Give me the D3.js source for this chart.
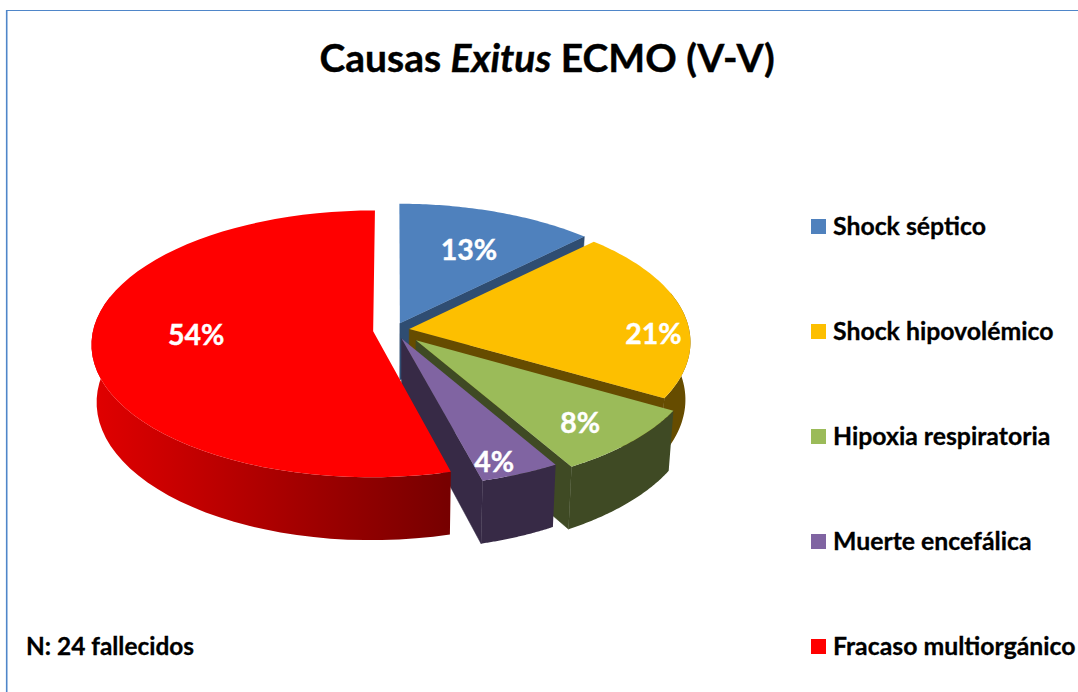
<!DOCTYPE html>
<html><head><meta charset="utf-8">
<script src="https://cdn.jsdelivr.net/npm/d3@7/dist/d3.min.js"></script>
<style>html,body{margin:0;padding:0;background:#fff}svg{display:block}text{font-family:Lato,"Open Sans",sans-serif;font-weight:700}</style>
</head><body><svg id="c" width="1078" height="692"></svg>
<script>
const categories = ["Shock séptico","Shock hipovolémico","Hipoxia respiratoria","Muerte encefálica","Fracaso multiorgánico"];
const values = [3,5,2,1,13];
const labels = ["13%","21%","8%","4%","54%"];
const topColors = ["#4f81bd","#fdbf00","#9bbb59","#8064a2","#ff0000"];
const wallColors = ["#2f4d72","#664c00","#3f4a24","#372a46","url(#redWall)"];
const explode = [0.055,0.055,0.11,0.07,0.075];
const labelRadius = [0.645,0.87,0.80,0.90,0.63];
const labelTurn = [1.5,10,2,3,5];

const cx=394, cy=330, A=280, B=132, k=0.094, depth=57, lowX=0.983, lowY=1.04;
const svg=d3.select("#c");
const grad=svg.append("defs").append("linearGradient").attr("id","redWall")
  .attr("gradientUnits","userSpaceOnUse").attr("x1",95).attr("x2",447).attr("y1",0).attr("y2",0);
grad.append("stop").attr("offset",0).attr("stop-color","#e00000");
grad.append("stop").attr("offset",1).attr("stop-color","#770000");

// frame
svg.append("line").attr("x1",6.7).attr("x2",6.7).attr("y1",10).attr("y2",692).attr("stroke","#4f86c9").attr("stroke-width",1.6);
svg.append("line").attr("x1",6).attr("x2",1078).attr("y1",10.5).attr("y2",10.5).attr("stroke","#4f86c9").attr("stroke-width",1.2);

function project(X,Yn,low){
  const w=1-k*Yn;
  return [cx+A*X/w*(low?lowX:1), cy+B*Yn/w*(low?lowY:1)+(low?depth:0)];
}
const line=d3.line();
const pie=d3.pie().sort(null).value(d=>d)(values);

function rimAngles(a0,a1){ return d3.range(0,61).map(i=>a0+(a1-a0)*i/60); }
function drawSlice(p,i){
  const mid=(p.startAngle+p.endAngle)/2;
  const ox=explode[i]*Math.sin(mid), oy=-explode[i]*Math.cos(mid);
  const pt=(t,r,low)=>project(ox+r*Math.sin(t),oy-r*Math.cos(t),low);
  const angs=rimAngles(p.startAngle,p.endAngle);
  const front=angs.filter(t=>-Math.cos(t)>-0.3);
  const g=svg.append("g");
  if(i<4){
    g.append("path").attr("fill",wallColors[i]).attr("stroke",wallColors[i]).attr("stroke-width",.5)
     .attr("d",line([pt(0,0,false),pt(p.endAngle,1,false),pt(p.endAngle,1,true),pt(0,0,true)])+"Z");
  }
  if(front.length>1){
    g.append("path").attr("fill",wallColors[i]).attr("d",
      line([...front.map(t=>pt(t,1,false)),...front.slice().reverse().map(t=>pt(t,1,true))])+"Z");
  }
  g.append("path").attr("fill",topColors[i]).attr("d",
    line([pt(0,0,false),...angs.map(t=>pt(t,1,false))])+"Z");
  return {i,pos:pt(mid+labelTurn[i]*Math.PI/180,labelRadius[i],false)};
}
const placed=pie.map(drawSlice);
svg.selectAll("text.pct").data(placed).join("text").attr("class","pct")
  .attr("x",d=>d.pos[0]).attr("y",d=>d.pos[1]).attr("dy","0.35em")
  .attr("text-anchor","middle").attr("fill","#fff").attr("stroke","#fff").attr("stroke-width",.4).attr("font-size",28.5).text(d=>labels[d.i]);

// title
const title=svg.append("text").attr("x",547).attr("y",72).attr("text-anchor","middle").attr("font-size",39).attr("fill","#000").attr("stroke","#000").attr("stroke-width",.4);
title.append("tspan").text("Causas ");
title.append("tspan").attr("font-style","italic").text("Exitus");
title.append("tspan").text(" ECMO (V-V)");

// legend
const legendY=d3.scalePoint().domain(categories).range([226.5,646.5]);
const lg=svg.selectAll("g.lg").data(categories).join("g").attr("class","lg")
  .attr("transform",d=>`translate(811,${legendY(d)})`);
lg.append("rect").attr("x",0).attr("y",-7.5).attr("width",15).attr("height",15).attr("fill",(d,i)=>topColors[i]);
lg.append("text").attr("x",22).attr("y",8).attr("font-size",24.8).attr("fill","#000").attr("stroke","#000").attr("stroke-width",.3).text(d=>d);

svg.append("text").attr("x",26).attr("y",655).attr("font-size",24.4).attr("fill","#000").attr("stroke","#000").attr("stroke-width",.3).text("N: 24 fallecidos");
</script></body></html>
